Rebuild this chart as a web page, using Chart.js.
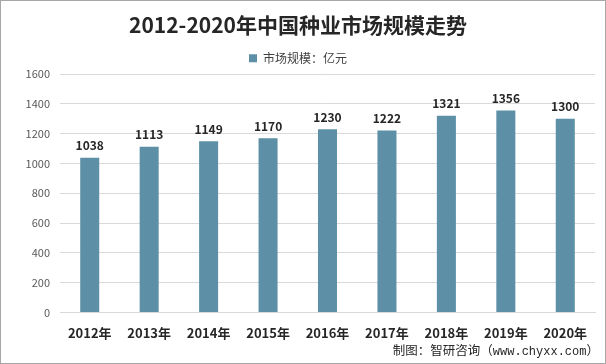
<!DOCTYPE html>
<html>
<head>
<meta charset="utf-8">
<script src="https://cdn.jsdelivr.net/npm/chart.js@4"></script>
<style>
  html, body { margin: 0; padding: 0; background: #fff; }
  #wrap { position: relative; width: 606px; height: 364px; box-sizing: border-box; border: 1px solid #a6a6a6; }
  #c { position: absolute; left: 0; top: 0; }
  #src { position: absolute; right: 6px; bottom: 4px; font: 12.5px "Noto Sans CJK SC", sans-serif; color: #262626; }
  #src span { font-family: "Liberation Mono", monospace; font-size: 12px; }
</style>
</head>
<body>
<div id="wrap">
  <canvas id="c" width="604" height="362"></canvas>
  <div id="src">制图：智研咨询（<span>www.chyxx.com</span>）</div>
</div>
<script>
var years = ['2012年', '2013年', '2014年', '2015年', '2016年', '2017年', '2018年', '2019年', '2020年']
var marketSize = [1038, 1113, 1149, 1170, 1230, 1222, 1321, 1356, 1300]
var seriesName = '市场规模：亿元'
var chartTitle = '2012-2020年中国种业市场规模走势'

var FONT = '"Noto Sans CJK SC", sans-serif'
var BAR = '#5d90a7'

// value labels above each bar
var valueLabels = {
  id: 'valueLabels',
  afterDatasetsDraw: function (chart) {
    var ctx = chart.ctx
    var meta = chart.getDatasetMeta(0)
    ctx.save()
    ctx.font = 'bold 12px ' + FONT
    ctx.fillStyle = '#262626'
    ctx.textAlign = 'center'
    ctx.textBaseline = 'bottom'
    meta.data.forEach(function (bar, i) {
      ctx.fillText(marketSize[i], bar.x, bar.y - 6)
    })
    ctx.restore()
  }
}

var chart = new Chart(document.getElementById('c'), {
  type: 'bar',
  data: {
    labels: years,
    datasets: [{
      label: seriesName,
      data: marketSize,
      backgroundColor: BAR,
      barPercentage: 0.32,
      categoryPercentage: 1
    }]
  },
  options: {
    responsive: false,
    animation: false,
    layout: { padding: { left: 0, right: 10, top: 0, bottom: 17 } },
    plugins: {
      title: {
        display: true,
        text: chartTitle,
        color: '#262626',
        font: { family: FONT, size: 21, weight: 'bold' },
        padding: { top: 11, bottom: 7 }
      },
      legend: {
        display: true,
        labels: {
          color: '#404040',
          font: { family: FONT, size: 12 },
          boxWidth: 8,
          boxHeight: 8,
          padding: 8
        }
      },
      tooltip: { enabled: false }
    },
    scales: {
      x: {
        grid: { display: false },
        border: { color: '#d9d9d9' },
        ticks: { color: '#262626', font: { family: FONT, size: 13, weight: 'bold' }, padding: 5 }
      },
      y: {
        min: 0,
        max: 1600,
        afterFit: function (scale) { scale.width = 59 },
        grid: { color: '#d9d9d9', drawTicks: false },
        border: { display: false },
        ticks: {
          stepSize: 200,
          color: '#595959',
          font: { family: FONT, size: 11 },
          padding: 10,
          callback: function (v) { return String(v) }
        }
      }
    }
  },
  plugins: [valueLabels]
})
</script>
</body>
</html>
